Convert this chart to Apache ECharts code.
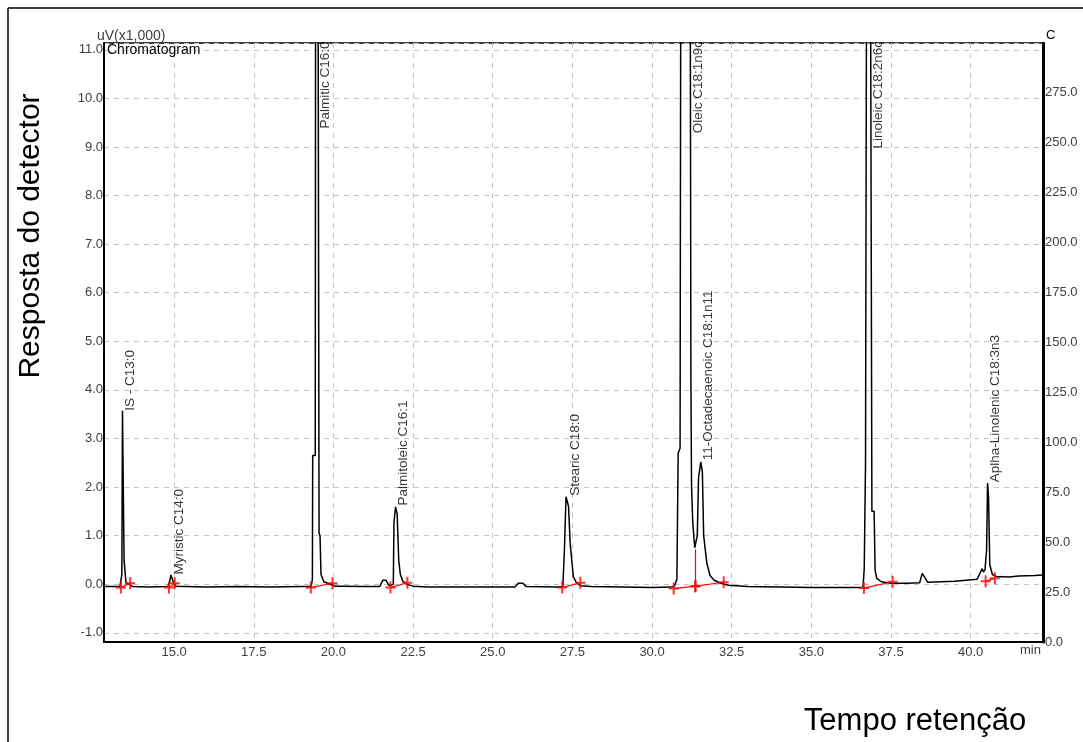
<!DOCTYPE html>
<html>
<head>
<meta charset="utf-8">
<script src="https://cdn.jsdelivr.net/npm/echarts@6/dist/echarts.min.js"></script>
<style>
  html, body { margin: 0; padding: 0; background: #fff; }
  #chart { width: 1083px; height: 742px; }
</style>
</head>
<body>
<div id="chart"></div>
<script>
// chromatogram trace (min, uV x1000)
var traceTime = [
  12.80, 13.30, 13.33, 13.36, 13.38, 13.42, 13.43, 13.47, 13.49, 13.60, 13.70,
  14.20, 14.80, 14.86, 14.90, 14.95, 14.99, 15.05, 16.00, 17.00, 18.00, 19.00,
  19.30, 19.34, 19.35, 19.43, 19.44, 19.52, 19.55, 19.58, 19.61, 19.70, 19.90, 20.05,
  20.30, 21.00, 21.45, 21.55, 21.65, 21.75, 21.88, 21.90, 21.95, 22.00, 22.05, 22.10, 22.18, 22.30, 22.50,
  23.00, 25.70, 25.80, 25.95, 26.05, 27.00, 27.20, 27.25, 27.30, 27.38, 27.43, 27.53, 27.62, 27.75, 28.10,
  30.00, 30.60, 30.70, 30.78, 30.82, 30.88, 30.90, 31.20, 31.22, 31.24, 31.28, 31.34,
  31.38, 31.42, 31.46, 31.53, 31.58, 31.62, 31.72, 31.82, 31.95, 32.15, 32.40, 33.00,
  35.00, 36.62, 36.66, 36.70, 36.73, 36.86, 36.90, 36.97, 37.00, 37.05, 37.20, 37.50,
  38.00, 38.40, 38.48, 38.55, 38.65, 39.50, 40.20, 40.36, 40.40, 40.45, 40.50, 40.53,
  40.56, 40.60, 40.68, 40.80, 41.20, 41.50, 42.00, 42.27
];
var traceSignal = [
  -0.05, -0.05, -0.03, 0.20, 3.57, 3.57, 0.49, 0.49, 0.03, 0.00, -0.05,
  -0.06, -0.05, 0.05, 0.19, 0.15, 0.02, -0.04, -0.06, -0.05, -0.06, -0.05,
  -0.05, 0.10, 2.65, 2.65, 12.0, 12.0, 1.05, 1.00, 0.20, 0.05, 0.00, -0.04,
  -0.04, -0.05, -0.05, 0.08, 0.08, -0.03, 0.00, 1.27, 1.59, 1.45, 0.49, 0.20, 0.06, 0.00, -0.04,
  -0.06, -0.06, 0.02, 0.02, -0.05, -0.06, -0.05, 0.70, 1.80, 1.60, 0.84, 0.15, 0.04, -0.03, -0.05,
  -0.07, -0.06, -0.04, 0.10, 2.70, 2.80, 12.0, 12.0, 4.16, 2.00, 1.25, 0.75,
  0.75, 1.00, 2.20, 2.52, 2.30, 1.00, 0.43, 0.18, 0.08, 0.02, -0.02, -0.05,
  -0.07, -0.07, 0.33, 2.50, 12.0, 12.0, 1.50, 1.50, 0.30, 0.12, 0.05, 0.02,
  0.02, 0.03, 0.22, 0.15, 0.04, 0.06, 0.10, 0.32, 0.25, 0.30, 0.70, 2.08,
  1.80, 0.40, 0.20, 0.16, 0.15, 0.17, 0.18, 0.19
];

// peak identification labels (text starts at labelBase and runs upwards)
var peakNames = [
  'IS - C13:0', 'Myristic C14:0', 'Palmitic C16:0', 'Palmitoleic C16:1', 'Stearic C18:0',
  'Oleic C18:1n9c', '11-Octadecaenoic C18:1n11', 'Linoleic C18:2n6c', 'Aplha-Linolenic C18:3n3'
];
var peakTime = [13.42, 14.93, 19.53, 21.98, 27.37, 31.22, 31.55, 36.88, 40.55];
var labelBase = [3.57, 0.20, 9.38, 1.62, 1.82, 9.28, 2.55, 8.97, 2.10];

// integration marks (start / end of each peak)
var intStartTime = [13.33, 14.84, 19.29, 21.79, 27.18, 30.68, 31.36, 36.65, 40.47];
var intStartSignal = [-0.07, -0.07, -0.07, -0.07, -0.07, -0.09, -0.04, -0.08, 0.06];
var intEndTime = [13.62, 15.02, 19.97, 22.32, 27.75, 31.36, 32.25, 37.55, 40.76];
var intEndSignal = [0.02, 0.02, 0.02, 0.03, 0.03, -0.04, 0.04, 0.05, 0.12];
var valleyTime = 31.36, valleyTop = 0.72;

var xMin = 12.8, xMax = 42.27;
var yMin = -1.19, yMax = 11.14;
var tempMin = 0, tempMax = 300;

var FONT = '"Liberation Sans", Arial, sans-serif';

var dom = document.getElementById('chart');
var myChart = echarts.init(dom);

var trace = traceTime.map(function (t, i) { return [t, traceSignal[i]]; });

var labelData = peakNames.map(function (n, i) {
  return [peakTime[i], labelBase[i], n];
});

var segs = [];
var marks = [];
intStartTime.forEach(function (t, i) {
  segs.push({ coords: [[t, intStartSignal[i]], [intEndTime[i], intEndSignal[i]]] });
  marks.push([t, intStartSignal[i]]);
  marks.push([intEndTime[i], intEndSignal[i]]);
});
segs.push({ coords: [[valleyTime, -0.04], [valleyTime, valleyTop]] });

var fmt1 = function (v) { return v.toFixed(1); };

option = {
  animation: false,
  backgroundColor: '#fff',
  textStyle: { fontFamily: FONT },
  grid: {
    left: 104, top: 43, right: 40, bottom: 100,
    show: true, borderColor: '#000', borderWidth: 1.5
  },
  xAxis: {
    type: 'value',
    min: xMin, max: xMax,
    minInterval: 2.5, maxInterval: 2.5,
    axisLine: { onZero: false, lineStyle: { color: '#000', width: 2 } },
    axisTick: { show: false },
    axisLabel: {
      formatter: fmt1, color: '#404040', fontSize: 13, fontFamily: FONT, margin: 4,
      showMinLabel: false, showMaxLabel: false
    },
    splitLine: { show: true, lineStyle: { color: '#c4c4c4', type: [5, 5], width: 1 } }
  },
  yAxis: [
    {
      type: 'value',
      min: yMin, max: yMax,
      minInterval: 1, maxInterval: 1,
      axisLine: { show: true, onZero: false, lineStyle: { color: '#000', width: 2 } },
      axisTick: { show: false },
      axisLabel: {
        formatter: fmt1, color: '#404040', fontSize: 13, fontFamily: FONT, margin: 1,
        showMinLabel: false, showMaxLabel: false
      },
      splitLine: { show: true, lineStyle: { color: '#c4c4c4', type: [5, 5], width: 1 } }
    },
    {
      type: 'value',
      position: 'right',
      min: tempMin, max: tempMax, interval: 25,
      axisLine: { show: true, lineStyle: { color: '#000', width: 3 } },
      axisTick: { show: false },
      axisLabel: {
        formatter: fmt1, color: '#404040', fontSize: 13, fontFamily: FONT, margin: 2,
        showMaxLabel: false
      },
      splitLine: { show: false }
    }
  ],
  graphic: [
    // mask above the plot so peak names are cut at the frame
    { type: 'rect', z: 100, shape: { x: 9, y: 9.5, width: 1074, height: 32.6 }, style: { fill: '#fff' } },
    { type: 'line', z: 101, shape: { x1: 8, y1: 8, x2: 1083, y2: 8 }, style: { stroke: '#000', lineWidth: 1.5 } },
    { type: 'line', z: 101, shape: { x1: 8, y1: 8, x2: 8, y2: 742 }, style: { stroke: '#000', lineWidth: 1.5 } },
    { type: 'text', z: 101, left: 97, top: 29, style: { text: 'uV(x1,000)', fill: '#404040', font: '14px ' + FONT } },
    { type: 'text', z: 101, left: 107, top: 43, style: { text: 'Chromatogram', fill: '#000', font: '14px ' + FONT } },
    { type: 'text', z: 101, left: 1046, top: 29, style: { text: 'C', fill: '#000', font: '13px ' + FONT } },
    { type: 'text', left: 1020, top: 644, style: { text: 'min', fill: '#404040', font: '13px ' + FONT } },
    {
      type: 'text', x: 16, y: 236, rotation: Math.PI / 2,
      style: { text: 'Resposta do detector', fill: '#000', font: '30px ' + FONT, align: 'center', verticalAlign: 'top' }
    },
    {
      type: 'text', x: 915, y: 721,
      style: { text: 'Tempo retenção', fill: '#000', font: '31px ' + FONT, align: 'center', verticalAlign: 'middle' }
    }
  ],
  series: [
    {
      name: 'Chromatogram',
      type: 'line',
      data: trace,
      yAxisIndex: 0,
      showSymbol: false,
      clip: true,
      lineStyle: { color: '#000', width: 1.5 },
      z: 3
    },
    {
      name: 'integration',
      type: 'lines',
      coordinateSystem: 'cartesian2d',
      data: segs,
      lineStyle: { color: '#ff0000', width: 1.2, opacity: 1 },
      z: 4
    },
    {
      name: 'marks',
      type: 'scatter',
      data: marks,
      symbol: 'path://M4,0h2v12h-2z M0,5h10v2h-10z',
      symbolSize: [10, 12],
      itemStyle: { color: '#ff0000' },
      z: 5
    },
    {
      name: 'peaks',
      type: 'scatter',
      data: labelData,
      symbolSize: 1,
      itemStyle: { color: 'rgba(0,0,0,0)' },
      label: {
        show: true,
        position: 'inside',
        rotate: 90,
        align: 'left',
        verticalAlign: 'top',
        color: '#000',
        fontSize: 13.5,
        fontFamily: FONT,
        formatter: function (p) { return p.value[2]; }
      },
      z: 6
    }
  ]
};

if (option && typeof option === "object") {
  myChart.setOption(option, true);
}
</script>
</body>
</html>
